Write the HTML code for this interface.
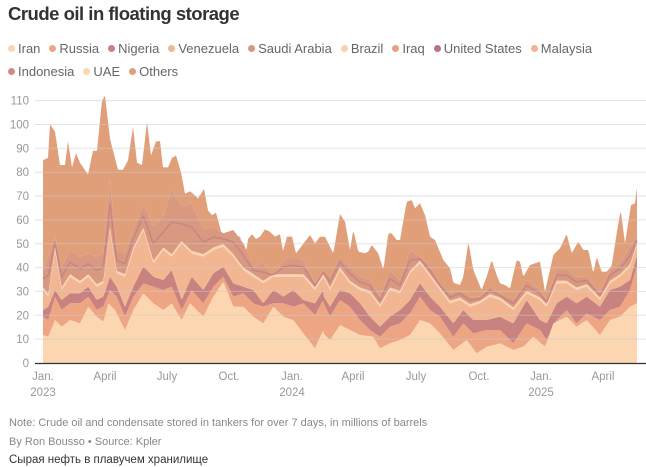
<!DOCTYPE html>
<html><head><meta charset="utf-8"><style>
body{margin:0;background:#fff;width:646px;height:467px;overflow:hidden;font-family:"Liberation Sans",sans-serif}
.t{position:absolute;left:8px;top:3px;font-size:18.5px;font-weight:bold;color:#333;letter-spacing:-0.5px}
.lg{position:absolute;left:8px;font-size:13px;color:#666;white-space:nowrap}
.lg span{margin-right:9px}
.lg i{display:inline-block;width:7px;height:7px;border-radius:50%;margin-right:3px;vertical-align:1px}
.n{position:absolute;left:9px;font-size:11px;color:#888}
</style></head><body>
<div class="t">Crude oil in floating storage</div>
<div class="lg" style="top:41px">
<span><i style="background:#fbd6b1"></i>Iran</span><span><i style="background:#eea583"></i>Russia</span><span><i style="background:#c8827f"></i>Nigeria</span><span><i style="background:#f2b792"></i>Venezuela</span><span><i style="background:#d99880"></i>Saudi Arabia</span><span><i style="background:#fbd0ae"></i>Brazil</span><span><i style="background:#e8a07e"></i>Iraq</span><span><i style="background:#b97480"></i>United States</span><span><i style="background:#f3b38e"></i>Malaysia</span></div>
<div class="lg" style="top:64px"><span><i style="background:#cf8a86"></i>Indonesia</span><span><i style="background:#fbd6b1"></i>UAE</span><span><i style="background:#e19f79"></i>Others</span></div>
<svg id="s" width="646" height="467" style="position:absolute;left:0;top:0" font-family="Liberation Sans, sans-serif"></svg>
<div class="n" style="top:417px">Note: Crude oil and condensate stored in tankers for over 7 days, in millions of barrels</div>
<div class="n" style="top:436px">By Ron Bousso • Source: Kpler</div>
<div class="n" style="top:454px;color:#333;font-size:11.5px">Сырая нефть в плавучем хранилище</div>
<script>
function V(v){return 363-2.385*v}
var tv=[43,85,48,86,50,100,55,97,60,83,65,83,68,93,72,82,76,88,80,84,88,79,93,89,97,89,102,110,105,112,110,94,118,81,123,81,128,85,133,99,137,84,142,83,147,101,151,87,156,93,160,93,163,82,168,82,172,86,176,87,181,80,185,71,190,72,193,71,198,69,204,73,208,64,212,62,216,63,220,57,224,49,228,51,232,51,236,53,240,53,245,42,248,52,252,54,256,52,260,53,265,56,270,55,275,53,280,54,283,47,287,53,292,53,296,46];
var T=[];for(var i=0;i<tv.length;i+=2)T.push([tv[i],V(tv[i+1])]);
var z3t=[0,420,30,435,45,460,60,440,75,440,100,490,120,372,135,395,150,480,160,420,175,485,195,490,205,485,215,465,235,490,250,540,265,430,275,430,290,450,300,450,320,335,335,330,345,355,360,340,375,375,390,440,405,450,430,510,450,535,460,578,480,585,490,560,505,455,520,540,545,600,560,560,575,510,590,555,600,580,615,585,630,595,650,510,660,515,670,560,690,525,720,515,735,605,760,495,780,475,800,432,815,490,835,455,850,480,865,480,880,550,890,500,905,545,920,545,935,528,950,430,962,360,975,460,993,345,1005,340,1010,295];
function z(a,off){var r=[];for(var i=0;i<a.length;i+=2)r.push([off+a[i]/3,90+a[i+1]/3]);return r}
T=T.concat(z(z3t.slice(2),300));
var iran=z([130,735,145,740,165,690,185,710,210,690,240,700,265,650,290,680,310,695,325,640,345,660,375,720,400,660,430,610,460,640,490,660,515,640,545,690,570,640,610,680,640,620,670,575,700,650,730,650,760,680,790,700,820,650,850,680,880,690,910,730,945,775,970,720],0).concat(z([0,745,45,780,60,720,90,750,120,705,150,720,180,735,220,740,240,775,270,760,300,750,330,735,360,690,390,700,420,730,460,780,480,765,500,750,530,790,560,770,600,760,640,780,670,770,700,740,735,770,760,700,800,680,830,710,860,690,900,735,930,690,960,680,990,650,1010,640],300));
var sal=z([130,680,145,690,165,620,185,660,210,640,240,640,265,620,290,660,310,650,330,600,350,620,375,680,400,620,430,580,460,590,490,600,515,590,545,660,575,600,610,640,640,590,670,560,700,620,730,610,760,640,790,650,820,640,850,640,880,650,910,640,945,675,970,630],0).concat(z([0,660,30,650,60,615,90,680,120,630,150,650,180,690,210,720,240,740,270,710,300,700,330,670,360,620,390,660,420,680,460,740,490,700,520,730,560,720,600,720,640,760,680,700,720,720,740,750,770,690,800,660,830,700,860,670,900,690,930,660,960,650,990,600,1010,530],300));
var rose=z([130,660,145,650,165,600,185,630,210,610,240,610,265,590,290,630,310,620,330,560,350,590,375,650,400,590,430,530,460,560,490,570,515,540,545,630,575,560,610,600,640,550,670,530,700,580,730,590,760,600,790,640,820,600,850,620,880,600,910,630,945,640,970,600],0).concat(z([0,630,30,610,60,600,90,650,120,600,150,610,180,640,210,680,240,710,270,680,300,660,330,630,360,580,390,620,420,650,460,700,490,660,520,690,560,690,600,680,640,700,680,630,720,690,740,700,770,640,800,620,830,640,860,620,900,650,930,600,960,590,990,570,1010,500],300));
var mid=z([130,600,145,620,165,480,185,600,210,560,240,580,265,560,290,590,310,580,330,420,350,550,375,560,400,480,430,420,460,520,490,480,515,500,545,460,575,490,610,500,640,480,670,470,700,500,730,540,760,560,790,580,820,560,850,560,880,560,910,560,945,600,970,560],0).concat(z([0,570,30,560,60,540,90,600,120,540,150,580,180,600,210,610,240,650,270,600,300,610,330,550,360,520,390,560,420,600,450,640,480,630,510,650,540,640,570,620,600,630,640,660,680,610,720,630,740,650,770,580,800,580,830,600,860,590,900,630,930,580,960,560,990,530,1010,470],300));
var oth=z([130,540,145,500,165,440,185,530,210,480,240,500,265,490,290,500,310,490,330,270,350,480,375,490,400,420,430,340,460,410,490,380,515,300,545,350,575,340,610,420,640,410,670,430,700,420,730,460,760,530,790,520,820,560,850,510,880,500,910,510,945,580,970,540],0).concat(z([0,510,30,520,60,530,90,560,120,500,150,530,180,560,210,570,240,620,270,540,300,570,330,480,360,500,390,530,420,580,450,610,480,600,510,620,540,620,570,590,600,610,640,630,680,570,720,600,740,630,770,540,800,540,830,560,860,560,900,610,930,540,960,520,990,470,1010,440],300));
function f(p,x){if(x<=p[0][0])return p[0][1];for(var i=1;i<p.length;i++)if(x<=p[i][0]){var a=p[i-1],b=p[i];return a[1]+(b[1]-a[1])*(x-a[0])/(b[0]-a[0])}return p[p.length-1][1]}
var xs=[];for(var x=43;x<=637;x+=1)xs.push(x);
var L=[iran,sal,rose,mid,null,oth,T];var B=[];var prev=xs.map(function(){return 363});
L.forEach(function(p,k){var arr=xs.map(function(x,i){var y=p?f(p,x):prev[i]-2.5;return Math.min(y,prev[i])});B.push(arr);prev=arr});
var cols=["#fbd6b1","#eea583","#c8827f","#f2b792","#fad5b1","#d99880","#e19f79"];
var s='';var base=xs.map(function(){return 363});
B.forEach(function(arr,k){var d='M'+xs[0]+','+base[0];xs.forEach(function(x,i){d+='L'+x+','+arr[i].toFixed(1)});for(var i=xs.length-1;i>=0;i--)d+='L'+xs[i]+','+base[i].toFixed(1);s+='<path d="'+d+'Z" fill="'+cols[k]+'"/>';base=arr});
var d2='M';xs.forEach(function(x,i){d2+=(i?'L':'')+x+','+((B[4][i]+B[5][i])/2).toFixed(1)});s+='<path d="'+d2+'" fill="none" stroke="#c98484" stroke-width="1.5"/>';
var g='';for(var k=0;k<=11;k++){var y=(363-23.85*k).toFixed(1);if(k>0)g+='<line x1="35" x2="646" y1="'+y+'" y2="'+y+'" stroke="#ccc" stroke-width="1" opacity="0.55"/>';g+='<text x="29" y="'+(+y+4)+'" text-anchor="end" font-size="11.5" fill="#999">'+(k*10)+'</text>'}
g+='<line x1="35" x2="646" y1="363.5" y2="363.5" stroke="#333" stroke-width="1.2"/>';
var lab=[[43,'Jan.','2023'],[105,'April'],[167,'July'],[229,'Oct.'],[292,'Jan.','2024'],[353,'April'],[416,'July'],[479,'Oct.'],[541,'Jan.','2025'],[603,'April']];
lab.forEach(function(l){g+='<text x="'+l[0]+'" y="380" text-anchor="middle" font-size="11.5" fill="#999">'+l[1]+'</text>';if(l[2])g+='<text x="'+l[0]+'" y="396" text-anchor="middle" font-size="11.5" fill="#999">'+l[2]+'</text>'});
document.getElementById('s').innerHTML=s+g;
</script>
</body></html>
